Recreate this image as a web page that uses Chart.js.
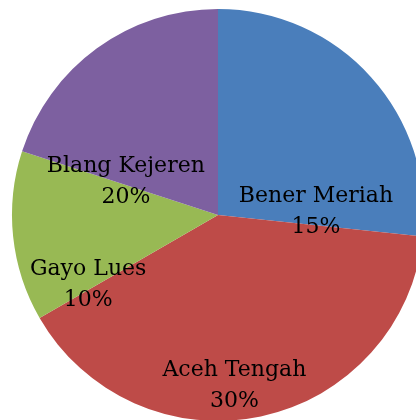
<!DOCTYPE html>
<html>
<head>
<meta charset="utf-8">
<script src="https://cdn.jsdelivr.net/npm/chart.js@4.4.1/dist/chart.umd.min.js"></script>
<style>
    html, body { margin: 0; padding: 0; background: #ffffff; overflow: hidden; width: 416px; height: 420px; }
    #wrap { position: relative; width: 436px; height: 430px; }
</style>
</head>
<body>
<div id="wrap"><canvas id="pie-chart"></canvas></div>
<script>
const regions = ['Bener Meriah', 'Aceh Tengah', 'Gayo Lues', 'Blang Kejeren'];
const sliceValues = [20, 30, 10, 15];
const percentLabels = ['15%', '30%', '10%', '20%'];
const sliceColors = ['#4a7ebb', '#be4b48', '#98b954', '#7d60a0'];

// where each label sits: angle (deg, clockwise from top) and fraction of radius
const labelAngle = [88, 174.5, 242, 290];
const labelDist = [0.476, 0.83, 0.714, 0.476];

const sliceLabels = {
    id: 'sliceLabels',
    afterDatasetsDraw(chart) {
        const ctx = chart.ctx;
        const arc = chart.getDatasetMeta(0).data[0];
        if (!arc) return;
        const cx = arc.x, cy = arc.y, r = arc.outerRadius;
        ctx.save();
        ctx.fillStyle = '#000000';
        ctx.font = '22px "DejaVu Serif"';
        ctx.textAlign = 'center';
        ctx.textBaseline = 'middle';
        regions.forEach((name, i) => {
            const a = (labelAngle[i] - 90) * Math.PI / 180;
            const x = cx + Math.cos(a) * r * labelDist[i];
            const y = cy + Math.sin(a) * r * labelDist[i];
            ctx.fillText(name, x, y - 15);
            ctx.fillText(percentLabels[i], x, y + 16);
        });
        ctx.restore();
    }
};

new Chart(document.getElementById('pie-chart'), {
    type: 'pie',
    data: {
        labels: regions,
        datasets: [{
            data: sliceValues,
            backgroundColor: sliceColors,
            borderWidth: 0
        }]
    },
    options: {
        responsive: true,
        maintainAspectRatio: false,
        animation: false,
        layout: {
            padding: { left: 12, right: 12, top: 9, bottom: 9 }
        },
        plugins: {
            legend: { display: false },
            tooltip: { enabled: false }
        }
    },
    plugins: [sliceLabels]
});
</script>
</body>
</html>
